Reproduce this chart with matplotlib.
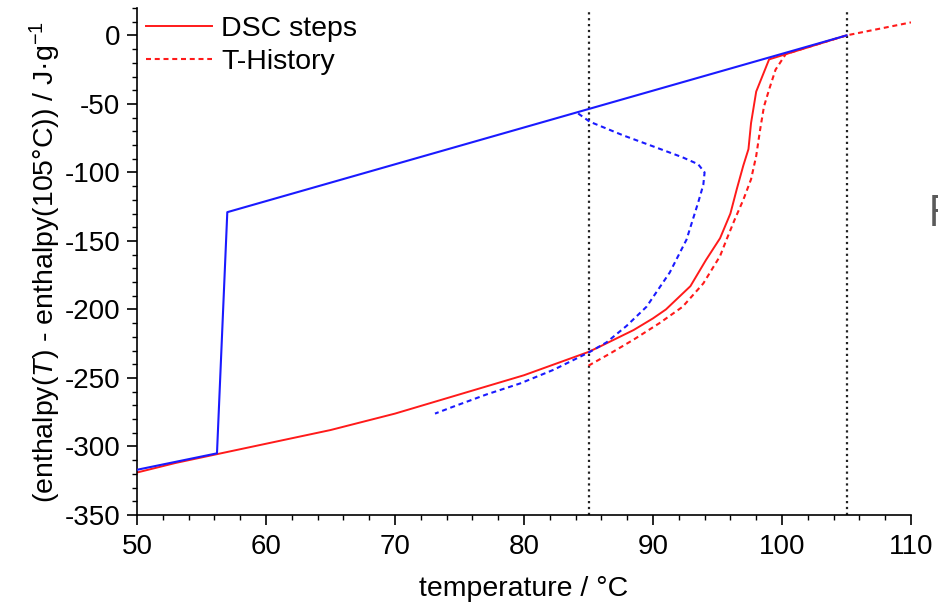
import matplotlib
matplotlib.use('Agg')
import matplotlib.pyplot as plt
from matplotlib.ticker import MultipleLocator

# DSC steps, cooling run (blue, solid)
dsc_cool_t = [50, 56.2, 57, 105]
dsc_cool_h = [-317, -305, -129, 0]

# DSC steps, heating run (red, solid)
dsc_heat_t = [50, 53, 56, 60, 65, 70, 75, 80, 85, 85.9, 88.5, 90, 91, 92.9, 94.1, 95.2, 96.0, 96.5, 97.0, 97.4,
              97.6, 98.0, 99.0, 105]
dsc_heat_h = [-319, -312, -306, -298, -288, -276, -262, -248, -231, -227, -215, -206.5, -200, -183, -164, -148,
              -130, -112, -95, -83, -64, -41, -17.5, 0]

# T-History, heating run (red, dashed)
th_heat_t = [85, 86.7, 88.5, 90.5, 92.3, 93.9, 95.2, 95.7, 96.35, 97.0, 97.6, 98.0, 98.3, 98.6, 99.0, 99.5,
             100.3, 105, 110]
th_heat_h = [-241, -232, -222, -210, -198, -181, -161, -149, -134, -120, -105, -88, -69, -52, -39.5, -25,
             -13.5, 0, 9.5]

# T-History, cooling run (blue, dashed)
th_cool_t = [84.2, 85.1, 87.7, 90.3, 92.3, 93.5, 94.0, 93.9, 93.5, 92.6, 91.3, 89.5, 87.95, 86.4, 85.1,
             82.3, 79.7, 77.1, 74.5, 73.1]
th_cool_h = [-57, -63, -73, -82, -89, -94, -100, -109, -122, -149, -173, -198, -212, -224, -231,
             -244, -254, -262, -271, -276]

# vertical marker temperatures
marker_t = [85, 105]


def main():
  plt.rcParams['font.family'] = ['Liberation Sans', 'DejaVu Sans']
  plt.rcParams['mathtext.fontset'] = 'custom'
  plt.rcParams['mathtext.rm'] = 'Liberation Sans'
  plt.rcParams['mathtext.it'] = 'Liberation Sans:italic'
  plt.rcParams['axes.unicode_minus'] = False

  fig = plt.figure(figsize=(9.38, 6.02), dpi=100)
  ax = fig.add_axes([137 / 938, 1 - 515 / 602, 774 / 938, 507 / 602])

  dash = (2.4, 1.8)
  for t in marker_t:
    ax.vlines(t, -350, 18, colors='#222222', linestyles=':', linewidth=1.6, zorder=1)

  ax.plot(dsc_heat_t, dsc_heat_h, color='#ff1a1a', lw=1.4, label='DSC steps', zorder=2)
  ax.plot(th_heat_t, th_heat_h, color='#ff1a1a', lw=1.5, dashes=dash, label='T-History', zorder=2)
  ax.plot(th_cool_t, th_cool_h, color='#1a1aff', lw=1.5, dashes=dash, zorder=3)
  ax.plot(dsc_cool_t, dsc_cool_h, color='#1a1aff', lw=1.5, zorder=4)

  ax.set_xlim(50, 110)
  ax.set_ylim(-350, 20)
  ax.xaxis.set_major_locator(MultipleLocator(10))
  ax.xaxis.set_minor_locator(MultipleLocator(2))
  ax.yaxis.set_major_locator(MultipleLocator(50))
  ax.yaxis.set_minor_locator(MultipleLocator(10))

  for side in ['top', 'right']:
    ax.spines[side].set_visible(False)
  for side in ['left', 'bottom']:
    ax.spines[side].set_linewidth(1.2)
  ax.tick_params(which='major', direction='out', length=7, width=1.2, labelsize=20)
  ax.tick_params(axis='x', which='major', pad=7)
  ax.tick_params(axis='y', which='major', pad=5)
  ax.tick_params(which='minor', direction='out', length=3.5, width=1.0)

  ax.set_xlabel('temperature / °C', fontsize=20.5, labelpad=11)
  ax.set_ylabel(r'(enthalpy($T$) - enthalpy(105°C)) / J·g$^{-1}$', fontsize=20.5, labelpad=1)

  ax.legend(loc='upper left', bbox_to_anchor=(0.012, 0.985), frameon=False, fontsize=20.5,
            handlelength=2.3, handletextpad=0.32, labelspacing=0.25, borderpad=0, borderaxespad=0)

  # cut-off letter from the neighbouring panel
  fig.text(928 / 938, 1 - 226 / 602, 'F', fontsize=31, color='#5a5a5a', family='Open Sans',
           ha='left', va='baseline')

  fig.savefig('out.png', dpi=100)
  plt.close(fig)


if __name__ == '__main__':
  main()
